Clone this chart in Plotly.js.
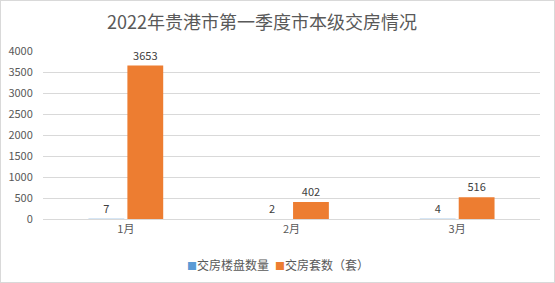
<!DOCTYPE html>
<html><head><meta charset="utf-8">
<script src="https://cdn.plot.ly/plotly-3.0.1.min.js"></script>
<style>html,body{margin:0;padding:0;background:#fff;}#c{width:555px;height:283px;box-sizing:border-box;border:1px solid #d9d9d9;}</style>
</head><body><div id="c"></div>
<script>
var categories = ['1月', '2月', '3月'];
var projects = [7, 2, 4];
var units = [3653, 402, 516];
var seriesNames = ['交房楼盘数量', '交房套数（套）'];
var seriesColors = ['#5B9BD5', '#ED7D31'];
var yTicks = [0, 500, 1000, 1500, 2000, 2500, 3000, 3500, 4000];
var font = '"Noto Sans CJK SC", "Noto Sans", sans-serif';
var W = 553, H = 281;
var traces = [
  {type:'bar', name:seriesNames[0], x:categories, y:projects, marker:{color:seriesColors[0]},
   text:projects.map(String), textposition:'outside', cliponaxis:false, textfont:{size:11,color:'#404040'}},
  {type:'bar', name:seriesNames[1], x:categories, y:units, marker:{color:seriesColors[1]},
   text:units.map(String), textposition:'outside', cliponaxis:false, textfont:{size:11,color:'#404040'}}
];
// compact legend, Excel style
var legX = [184, 272];
var annotations = [];
seriesNames.forEach(function(n, i){
  annotations.push({xref:'paper', yref:'paper', x:(legX[i]-42)/(W-42-14), y:-(263-218)/(218-50), xanchor:'left', yanchor:'middle',
    text:'<span style="color:'+seriesColors[i]+';font-size:10px">■</span>'+n, showarrow:false, font:{family:font,size:12,color:'#595959'}});
});
var layout = {
  width:W, height:H,
  margin:{l:42, r:14, t:50, b:63},
  paper_bgcolor:'#fff', plot_bgcolor:'#fff',
  font:{family:font, size:11, color:'#595959'},
  title:{text:'2022年贵港市第一季度市本级交房情况', font:{family:font, size:18, color:'#595959'}, x:261/W, xanchor:'center', y:1-22/H, yanchor:'middle'},
  bargap:0.53, bargroupgap:0.08,
  xaxis:{tickfont:{size:11,color:'#595959'}, showline:true, linecolor:'#d9d9d9', ticks:'', fixedrange:true},
  yaxis:{range:[0,4000], tickvals:yTicks, ticktext:yTicks.map(String), gridcolor:'#d9d9d9', zeroline:false, showline:false,
         ticks:'outside', ticklen:7, tickcolor:'rgba(0,0,0,0)', tickfont:{size:11,color:'#595959'}},
  showlegend:false,
  annotations:annotations
};
Plotly.newPlot('c', traces, layout, {displayModeBar:false, staticPlot:true});
</script></body></html>
